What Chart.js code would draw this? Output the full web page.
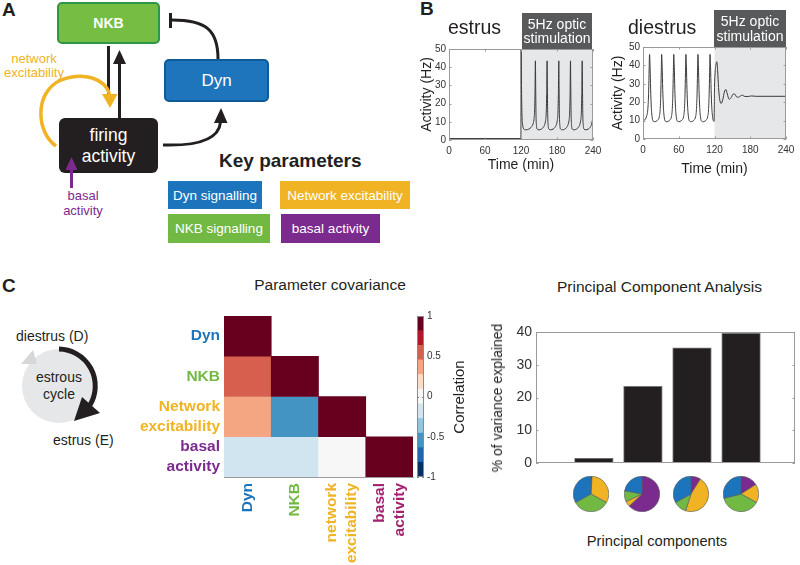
<!DOCTYPE html>
<html lang="en">
<head>
<meta charset="utf-8">
<title>Dyn / NKB model of estrous firing</title>
<script src="https://cdn.jsdelivr.net/npm/chart.js@4.4.1/dist/chart.umd.min.js"></script>
<style>
  html, body { margin: 0; padding: 0; }
  body { width: 800px; height: 565px; position: relative; overflow: hidden; background: #fff;
         font-family: 'Liberation Sans', Arial, Helvetica, sans-serif; color: #231f20; }
  canvas, svg, .t, .node, .key, .hdr { position: absolute; }
  .t { white-space: nowrap; }
  .panel { font-weight: bold; font-size: 19px; line-height: 20px; }
  .node { box-sizing: border-box; color: #fff; display: flex; align-items: center; justify-content: center; text-align: center; }
  .key { box-sizing: border-box; color: #fff; font-size: 13.5px; display: flex; align-items: center; justify-content: center; white-space: nowrap; }
  .hdr { background: #58595b; color: #fff; font-size: 14px; line-height: 14.5px; display: flex; align-items: center; justify-content: center; text-align: center; }
</style>
</head>
<body>

<!-- ===== A : model ===== -->
<div class="t panel" style="left:2px; top:0px;">A</div>
<div class="node" style="left:57px; top:2px; width:103px; height:42px; background:#76bd43; border:2.5px solid #2e9747; border-radius:5px; font-weight:bold; font-size:14px;">NKB</div>
<div class="node" style="left:164px; top:59px; width:105px; height:43px; background:#1f75bc; border:2.5px solid #0f5b98; border-radius:5px; font-size:17px;">Dyn</div>
<div class="node" style="left:59px; top:118px; width:99px; height:55px; background:#231f20; border-radius:6px; font-size:17.5px; line-height:21px;">firing<br>activity</div>

<div class="t" style="left:0px; top:52px; width:68px; text-align:center; font-size:13px; line-height:14px; color:#f0b323;">network<br>excitability</div>
<div class="t" style="left:58px; top:188px; width:50px; text-align:center; font-size:13px; line-height:15px; color:#7b2b8e;">basal<br>activity</div>

<div class="t" style="left:219px; top:150px; font-size:19px; font-weight:bold; line-height:22px;">Key parameters</div>
<div class="key" style="left:168px; top:181px; width:94px; height:28px; background:#1c75bc;">Dyn signalling</div>
<div class="key" style="left:280px; top:181px; width:130px; height:28px; background:#f0b323;">Network excitability</div>
<div class="key" style="left:168px; top:214px; width:102px; height:29px; background:#72b944;">NKB signalling</div>
<div class="key" style="left:281px; top:214px; width:99px; height:29px; background:#7b2b8e;">basal activity</div>

<svg width="800" height="565" viewBox="0 0 800 565" style="left:0; top:0;">
  <g fill="none" stroke="#231f20" stroke-width="3">
    <line x1="108.5" y1="46" x2="108.5" y2="98"/>
    <line x1="119.5" y1="118" x2="119.5" y2="62"/>
    <path d="M163 145 C195 146 219 140 220.5 122"/>
    <path d="M218 59 C218 30 206 20 172 20"/>
    <line x1="170.5" y1="13" x2="170.5" y2="28"/>
  </g>
  <g fill="#231f20">
    <polygon points="113,64 126,64 119.5,50"/>
    <polygon points="214,123 227.5,123 221,108"/>
  </g>
  <path d="M56 146 C36 132 34 92 61 80 C84 71 105 79 109.5 94" fill="none" stroke="#f0b323" stroke-width="3.5"/>
  <polygon points="102,94 117.5,94 110,108" fill="#f0b323"/>
  <line x1="71.5" y1="188" x2="71.5" y2="168" stroke="#7b2b8e" stroke-width="3"/>
  <polygon points="65.5,170 77.5,170 71.5,157" fill="#7b2b8e"/>

  <!-- estrous cycle -->
  <circle cx="59" cy="386" r="37" fill="#e6e7e8"/>
  <polygon points="21,364 33,350 37,364" fill="#d6d7d9"/>
  <path d="M59 349 A37 37 0 0 1 90 405" fill="none" stroke="#231f20" stroke-width="5"/>
  <polygon points="82,397 100,413 74,421" fill="#231f20"/>
</svg>

<!-- ===== B : activity traces ===== -->
<canvas id="estrus" width="195" height="138" style="left:410px; top:38px;"></canvas>
<canvas id="diestrus" width="200" height="142" style="left:600px; top:36px;"></canvas>
<div class="t panel" style="left:420px; top:-1px;">B</div>
<div class="t" style="left:448px; top:16px; font-size:19.5px; line-height:22px;">estrus</div>
<div class="t" style="left:628px; top:16px; font-size:19.5px; line-height:22px;">diestrus</div>
<div class="hdr" style="left:522px; top:13px; width:70px; height:36px;">5Hz optic<br>stimulation</div>
<div class="hdr" style="left:714px; top:10px; width:72px; height:37px;">5Hz optic<br>stimulation</div>

<!-- ===== C ===== -->
<div class="t panel" style="left:2px; top:276px;">C</div>
<div class="t" style="left:16px; top:328px; font-size:14px; line-height:16px;">diestrus (D)</div>
<div class="t" style="left:29px; top:369px; width:60px; text-align:center; font-size:14px; line-height:17px;">estrous<br>cycle</div>
<div class="t" style="left:53px; top:432px; font-size:14px; line-height:16px;">estrus (E)</div>

<div class="t" style="left:230px; top:276px; width:200px; text-align:center; font-size:15.5px; line-height:18px;">Parameter covariance</div>
<canvas id="heatmap" width="290" height="265" style="left:130px; top:300px;"></canvas>
<canvas id="colorbar" width="40" height="185" style="left:417px; top:300px;"></canvas>
<div class="t" style="left:458px; top:397px; transform:translate(-50%,-50%) rotate(-90deg); font-size:15px;">Correlation</div>

<div class="t" style="left:557px; top:278px; width:200px; text-align:center; font-size:15.5px; line-height:18px;">Principal Component Analysis</div>
<canvas id="pca" width="330" height="150" style="left:470px; top:320px;"></canvas>
<div class="t" style="left:497px; top:397.5px; transform:translate(-50%,-50%) rotate(-90deg); font-size:14px;">% of variance explained</div>
<canvas id="pie1" width="36" height="36" style="left:573px; top:476px;"></canvas>
<canvas id="pie2" width="36" height="36" style="left:624px; top:476px;"></canvas>
<canvas id="pie3" width="36" height="36" style="left:673px; top:476px;"></canvas>
<canvas id="pie4" width="36" height="36" style="left:723px; top:476px;"></canvas>
<div class="t" style="left:557px; top:532px; width:200px; text-align:center; font-size:14.7px; line-height:18px;">Principal components</div>

<script>
// ========== Data ==========

// estrus trace (Time in min, Activity in Hz)
const estrusTime = [
  0, 119.8,
  120.2, 120.8, 121.5, 122.5, 124, 127, 131, 135, 138, 140, 141.5, 142.5, 143.3, 144,
  144.5, 145, 145.8, 147, 150, 154, 157, 159.5, 161, 162, 162.8, 163.5,
  164, 164.5, 165.3, 166.5, 169.5, 173.5, 176.5, 179, 180.5, 181.5, 182.3, 183,
  183.5, 184, 184.8, 186, 189, 193, 196, 198.5, 200, 201, 201.8, 202.5,
  203, 203.5, 204.3, 205.5, 208.5, 212.5, 215.5, 218, 219.5, 220.5, 221.3, 222,
  222.5, 223, 223.8, 225, 228, 232, 235, 237.5, 239, 240
];
const estrusActivity = [
  0.8, 0.8,
  50, 30, 15, 9, 6.5, 5.6, 5.7, 6.4, 7.4, 8.8, 11, 15, 25, 43.5,
  28, 14, 8, 6, 5.6, 6.0, 6.9, 8.5, 10.8, 14.5, 25, 43.5,
  28, 14, 8, 6, 5.6, 6.0, 6.9, 8.5, 10.8, 14.5, 25, 43.5,
  28, 14, 8, 6, 5.6, 6.0, 6.9, 8.5, 10.8, 14.5, 25, 43.5,
  28, 14, 8, 6, 5.6, 6.0, 6.9, 8.5, 10.8, 14.5, 25, 43.5,
  28, 14, 8, 6, 5.6, 6.0, 6.9, 8.5, 10.8, 12.5
];

// diestrus trace
const diestrusTime = [
  0, 2, 4, 6, 7.5, 8.5, 9.5, 10.3, 11,
  11.8, 12.8, 14, 15.5, 17.5, 20, 23, 25.3, 27.3, 28.8, 29.8, 30.6, 31.3,
  32.1, 33.1, 34.3, 35.8, 37.8, 40.3, 43.3, 45.6, 47.6, 49.1, 50.1, 50.9, 51.6,
  52.4, 53.4, 54.6, 56.1, 58.1, 60.6, 63.6, 66, 68, 69.5, 70.5, 71.3, 72,
  72.8, 73.8, 75, 76.5, 78.5, 81, 84, 86.2, 88.2, 89.7, 90.7, 91.5, 92.2,
  93, 94, 95.2, 96.7, 98.7, 101.2, 104.2, 106.5, 108.5, 110, 111, 111.8, 112.5,
  113.3, 114.3, 115.5, 117, 119.3,
  120, 121, 122.5, 124, 125.3, 126.8, 128.5, 131, 134, 136.5, 139, 141.5, 144.5,
  148, 151.5, 154, 157, 160, 164, 167, 171, 176, 182, 190, 240
];
const diestrusActivity = [
  9.8, 10.1, 10.8, 12.3, 14.5, 18, 26, 38, 46,
  40, 27, 17, 11.5, 9.6, 9.4, 9.8, 10.5, 12, 16, 24, 36, 46,
  40, 27, 17, 11.5, 9.6, 9.4, 9.8, 10.5, 12, 16, 24, 36, 46,
  40, 27, 17, 11.5, 9.6, 9.4, 9.8, 10.5, 12, 16, 24, 36, 46,
  40, 27, 17, 11.5, 9.6, 9.4, 9.8, 10.5, 12, 16, 24, 36, 46,
  40, 27, 17, 11.5, 9.6, 9.4, 9.8, 10.5, 12, 16, 24, 36, 46,
  40, 27, 17, 11.5, 9.6,
  28, 36, 40.5, 42, 37, 28, 22, 19.3, 21.5, 25.5, 26.9, 24.5, 21.6,
  22.5, 24.5, 24.4, 22.9, 22.7, 23.5, 23.8, 23.1, 23.1, 23.4, 23.2, 23.2
];
const stimStart = 120;
const stimEnd = 240;

// parameter correlation (lower triangle, columns: Dyn, NKB, Network, basal)
const paramNames = ['Dyn', 'NKB', 'Network excitability', 'basal activity'];
const rowLabels = ['Dyn', 'NKB', ['Network', 'excitability'], ['basal', 'activity']];
const colLabels = ['Dyn', 'NKB', ['network', 'excitability'], ['basal', 'activity']];
const corrDyn = [1];
const corrNKB = [0.55, 1];
const corrNetwork = [0.35, -0.55, 1];
const corrBasal = [-0.18, -0.18, -0.04, 1];

// colour scale (RdBu, 11 steps)
const cmapEdges = [-1, -0.818, -0.636, -0.455, -0.273, -0.091, 0.091, 0.273, 0.455, 0.636, 0.818, 1];
const cmapColors = ['#053061', '#2166ac', '#4393c3', '#92c5de', '#d1e5f0', '#f7f7f7',
                    '#fddbc7', '#f4a582', '#d6604d', '#b2182b', '#67001f'];
const cbarTicks = [-1, -0.5, 0, 0.5, 1];

// PCA
const pcIndex = [1, 2, 3, 4];
const pcVariance = [1.5, 23.5, 35.3, 39.7];
// loadings share per component (Dyn, NKB, Network, basal)
const pc1Share = [33, 34, 32, 1];
const pc2Share = [22, 10, 5, 63];
const pc3Share = [33, 12, 46, 9];
const pc4Share = [29, 38, 17, 16];

const paramColors = ['#1c75bc', '#72b944', '#f0b323', '#7b2b8e'];
const colLabelColors = ['#1c75bc', '#72b944', '#f0b323', '#a3226f'];

// ========== Helpers ==========

Chart.defaults.font.family = "'Liberation Sans', Arial, Helvetica, sans-serif";
Chart.defaults.color = '#231f20';
Chart.defaults.animation = false;
Chart.defaults.plugins.legend.display = false;
Chart.defaults.plugins.tooltip.enabled = false;

function fixWidth(w) {
  return scale => { scale.width = w; scale.paddingTop = 0; scale.paddingBottom = 0; };
}
function fixHeight(h) {
  return scale => { scale.height = h; scale.paddingLeft = 0; scale.paddingRight = 0; };
}

function corrColor(v) {
  for (let k = cmapColors.length - 1; k >= 0; k--) {
    if (v >= cmapEdges[k]) return cmapColors[k];
  }
  return cmapColors[0];
}

// shaded stimulation window + matlab-like box with inner ticks
const framePlugin = {
  id: 'frame',
  beforeDatasetsDraw(chart, args, opts) {
    if (opts.shadeFrom === undefined) return;
    const { ctx, chartArea: a, scales: { x } } = chart;
    const x0 = x.getPixelForValue(opts.shadeFrom);
    const x1 = x.getPixelForValue(opts.shadeTo);
    ctx.save();
    ctx.fillStyle = opts.shadeColor;
    ctx.fillRect(x0, a.top, x1 - x0, a.bottom - a.top);
    ctx.restore();
  },
  afterDatasetsDraw(chart, args, opts) {
    const { ctx, chartArea: a, scales } = chart;
    const tl = opts.tickLength || 0;
    ctx.save();
    ctx.strokeStyle = opts.color || '#999';
    ctx.lineWidth = 1;
    ctx.beginPath();
    if (tl && opts.xTicks) {
      scales.x.ticks.forEach(t => {
        const px = Math.round(scales.x.getPixelForValue(t.value)) + 0.5;
        ctx.moveTo(px, a.bottom); ctx.lineTo(px, a.bottom - tl);
        ctx.moveTo(px, a.top); ctx.lineTo(px, a.top + tl);
      });
    }
    if (tl && opts.yTicks) {
      scales.y.ticks.forEach(t => {
        const py = Math.round(scales.y.getPixelForValue(t.value)) + 0.5;
        ctx.moveTo(a.left, py); ctx.lineTo(a.left + tl, py);
        ctx.moveTo(a.right, py); ctx.lineTo(a.right - tl, py);
      });
    }
    ctx.stroke();
    ctx.strokeRect(Math.round(a.left) + 0.5, Math.round(a.top) + 0.5,
                   Math.round(a.right - a.left) - 1, Math.round(a.bottom - a.top) - 1);
    ctx.restore();
  }
};

// ========== B: activity traces ==========

function activityChart(id, time, activity, lay) {
  return new Chart(document.getElementById(id), {
    type: 'line',
    data: {
      datasets: [{
        data: time.map((t, i) => ({ x: t, y: activity[i] })),
        borderColor: '#3a3a3a',
        borderWidth: 1,
        pointRadius: 0,
        cubicInterpolationMode: 'monotone',
        fill: false
      }]
    },
    options: {
      responsive: false,
      devicePixelRatio: 1,
      layout: { padding: lay.padding },
      scales: {
        x: {
          type: 'linear', min: 0, max: 240,
          grid: { display: false, drawTicks: false },
          border: { display: false },
          ticks: { stepSize: 60, font: { size: 10 }, padding: 5, color: '#333' },
          title: { display: true, text: 'Time (min)', font: { size: 14 }, padding: { top: 0, bottom: lay.xTitlePad } },
          afterFit: fixHeight(lay.xHeight)
        },
        y: {
          min: 0, max: 50,
          grid: { display: false, drawTicks: false },
          border: { display: false },
          ticks: { stepSize: 10, font: { size: 10 }, padding: 3, color: '#333' },
          title: { display: true, text: 'Activity (Hz)', font: { size: 14 }, padding: { top: lay.yTitlePad, bottom: 0 } },
          afterFit: fixWidth(lay.yWidth)
        }
      },
      plugins: {
        frame: { shadeFrom: stimStart, shadeTo: stimEnd, shadeColor: '#e6e7e8', color: '#9a9a9a',
                 tickLength: 2.5, xTicks: true, yTicks: true }
      }
    },
    plugins: [framePlugin]
  });
}

activityChart('estrus', estrusTime, estrusActivity,
  { padding: { top: 11, right: 12, left: 0, bottom: 0 }, yWidth: 39, xHeight: 36, yTitlePad: 8.6, xTitlePad: 2.6 });
activityChart('diestrus', diestrusTime, diestrusActivity,
  { padding: { top: 11, right: 14, left: 0, bottom: 0 }, yWidth: 43, xHeight: 39, yTitlePad: 9.6, xTitlePad: 0 });

// ========== C: correlation heatmap ==========

const corrRows = [corrDyn, corrNKB, corrNetwork, corrBasal];
const nParams = paramNames.length;
const lineShift = 0.213; // half a label line, in cell units

new Chart(document.getElementById('heatmap'), {
  type: 'bar',
  data: {
    datasets: corrRows.map((row, r) => ({
      label: paramNames[r],
      data: row.map((v, c) => ({ x: c + 0.5, y: [nParams - 1 - r, nParams - r] })),
      backgroundColor: row.map(corrColor),
      borderWidth: 0,
      grouped: false,
      barPercentage: 1,
      categoryPercentage: 1
    }))
  },
  options: {
    responsive: false,
    devicePixelRatio: 1,
    layout: { padding: { top: 16, right: 7, left: 0, bottom: 0 } },
    scales: {
      x: {
        type: 'linear', min: 0, max: nParams, offset: false, display: false,
        afterBuildTicks: s => { s.ticks = paramNames.map((n, c) => ({ value: c + 0.5 })); }
      },
      xl: {
        type: 'linear', position: 'bottom', min: 0, max: nParams, offset: false,
        grid: { display: false, drawTicks: false, offset: false },
        border: { display: true, color: '#9a9a9a' },
        afterBuildTicks: s => {
          s.ticks = colLabels.map((l, c) => ({ value: c + 0.5 - (Array.isArray(l) ? (l.length - 1) * lineShift : 0) }));
        },
        ticks: {
          autoSkip: false, minRotation: 90, maxRotation: 90, padding: 6,
          font: { size: 15.5, weight: 'bold', lineHeight: 1.3 },
          color: c => colLabelColors[c.index],
          callback: (v, i) => colLabels[i]
        },
        afterFit: fixHeight(88)
      },
      y: {
        type: 'linear', min: 0, max: nParams,
        grid: { display: false, drawTicks: false },
        border: { display: true, color: '#9a9a9a' },
        afterBuildTicks: s => { s.ticks = rowLabels.map((l, r) => ({ value: nParams - 0.5 - r })); },
        ticks: {
          padding: 4,
          font: { size: 15.5, weight: 'bold', lineHeight: 1.3 },
          color: c => paramColors[c.index],
          callback: (v, i) => rowLabels[i]
        },
        afterFit: fixWidth(94)
      }
    }
  }
});

// colour bar
new Chart(document.getElementById('colorbar'), {
  type: 'bar',
  data: {
    labels: [''],
    datasets: cmapColors.map((col, k) => ({
      data: [[cmapEdges[k], cmapEdges[k + 1]]],
      backgroundColor: col,
      borderWidth: 0,
      grouped: false,
      barPercentage: 1,
      categoryPercentage: 1
    }))
  },
  options: {
    responsive: false,
    devicePixelRatio: 1,
    layout: { padding: { top: 16, bottom: 8, left: 0, right: 0 } },
    scales: {
      x: { display: false },
      y: {
        position: 'right', min: -1, max: 1,
        grid: { display: false, drawTicks: false },
        border: { display: false },
        afterBuildTicks: s => { s.ticks = cbarTicks.map(v => ({ value: v })); },
        ticks: { font: { size: 10 }, padding: 3, color: '#333', callback: v => String(v) },
        afterFit: fixWidth(33)
      }
    },
    plugins: { frame: { color: '#8a8a8a', tickLength: 2, yTicks: true } }
  },
  plugins: [framePlugin]
});

// ========== C: PCA ==========

new Chart(document.getElementById('pca'), {
  type: 'bar',
  data: {
    datasets: [{
      data: pcIndex.map((p, i) => ({ x: p, y: pcVariance[i] })),
      backgroundColor: '#231f20',
      borderColor: '#6d6e71',
      borderWidth: 0.8,
      barPercentage: 1,
      categoryPercentage: 0.8
    }]
  },
  options: {
    responsive: false,
    devicePixelRatio: 1,
    layout: { padding: { top: 12, right: 5, left: 0, bottom: 0 } },
    scales: {
      x: {
        type: 'linear', min: -0.18, max: 5.1, offset: false,
        grid: { display: false, drawTicks: false, offset: false },
        border: { display: false },
        ticks: { display: false },
        afterBuildTicks: s => { s.ticks = pcIndex.map(v => ({ value: v })); },
        afterFit: fixHeight(7)
      },
      y: {
        min: 0, max: 40,
        grid: { display: false, drawTicks: false },
        border: { display: false },
        ticks: { stepSize: 10, font: { size: 14 }, padding: 4, color: '#333' },
        afterFit: fixWidth(66)
      }
    },
    plugins: { frame: { color: '#9a9a9a', tickLength: 2.5, yTicks: true } }
  },
  plugins: [framePlugin]
});

// loadings pies (drawn clockwise from 12 o'clock, so reverse matlab's order)
[pc1Share, pc2Share, pc3Share, pc4Share].forEach((share, i) => {
  new Chart(document.getElementById('pie' + (i + 1)), {
    type: 'pie',
    data: {
      labels: paramNames.slice().reverse(),
      datasets: [{
        data: share.slice().reverse(),
        backgroundColor: paramColors.slice().reverse(),
        borderColor: '#58595b',
        borderWidth: 0.6
      }]
    },
    options: { responsive: false, devicePixelRatio: 1, layout: { padding: 0 } }
  });
});
</script>
</body>
</html>
